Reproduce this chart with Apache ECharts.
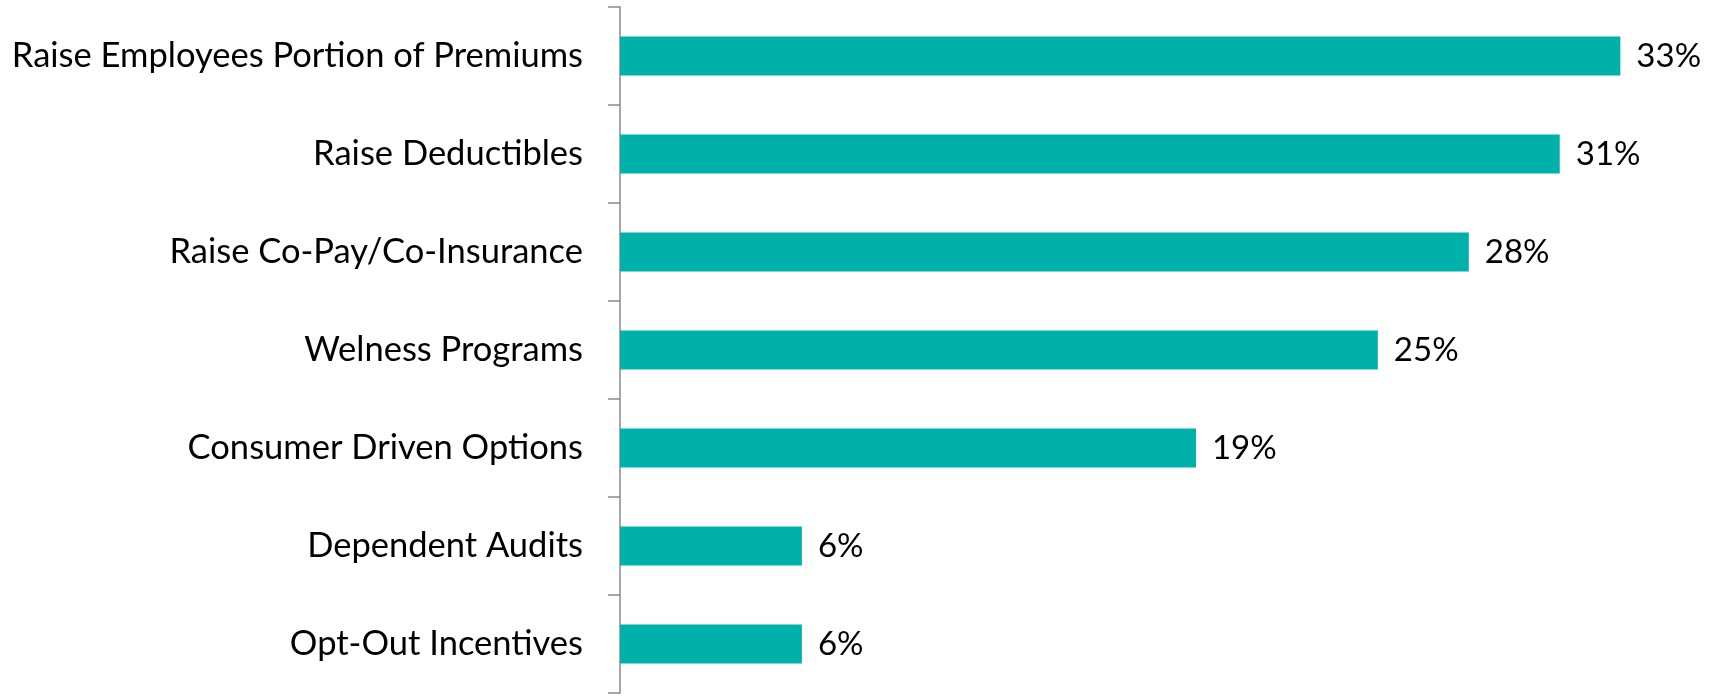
<!DOCTYPE html>
<html>
<head>
<meta charset="utf-8">
<script src="https://cdn.jsdelivr.net/npm/echarts@6/dist/echarts.min.js"></script>
<style>
  html, body { margin: 0; padding: 0; background: #ffffff; }
  #chart { width: 1720px; height: 698px; }
</style>
</head>
<body>
<div id="chart"></div>
<script>
// Cost-containment strategies and share of respondents (%)
const categories = [
  'Raise Employees Portion of Premiums',
  'Raise Deductibles',
  'Raise Co-Pay/Co-Insurance',
  'Welness Programs',
  'Consumer Driven Options',
  'Dependent Audits',
  'Opt-Out Incentives'
];
const values = [33, 31, 28, 25, 19, 6, 6];

const FONT = 'Lato, "Open Sans", sans-serif';

const chart = echarts.init(document.getElementById('chart'), null, { renderer: 'canvas' });

chart.setOption({
  animation: false,
  grid: { left: 620, right: 39, top: 7, bottom: 5, containLabel: false },
  xAxis: {
    type: 'value',
    min: 0,
    max: 35,
    show: false
  },
  yAxis: {
    type: 'category',
    data: categories,
    inverse: true,
    axisLine: { show: true, lineStyle: { color: '#8a8a8a', width: 1.5 } },
    axisTick: { show: true, length: 12, lineStyle: { color: '#8a8a8a', width: 1.5 } },
    axisLabel: {
      margin: 37,
      color: '#000000',
      fontFamily: FONT,
      fontSize: 34.5
    },
    splitLine: { show: false }
  },
  series: [{
    type: 'bar',
    data: values,
    barWidth: 39,
    itemStyle: { color: '#00B1AA' },
    label: {
      show: true,
      position: 'right',
      distance: 16,
      formatter: p => p.value + '%',
      color: '#000000',
      fontFamily: FONT,
      fontSize: 33
    }
  }]
});
</script>
</body>
</html>
